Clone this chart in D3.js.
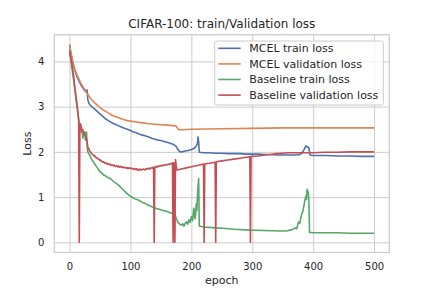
<!DOCTYPE html>
<html>
<head>
<meta charset="utf-8">
<script src="https://cdn.jsdelivr.net/npm/d3@7"></script>
<style>
  body { margin: 0; background: #fff; }
  text { font-family: "DejaVu Sans", sans-serif; fill: #262626; }
</style>
</head>
<body>
<div id="chart"></div>
<script>
// values, [epoch, loss]
const mcelTrain = [
  [0, 4.37], [2, 4.2], [4, 4.06], [6, 3.94], [8, 3.84], [10, 3.75], [13, 3.64], [16, 3.55], [19, 3.47],
  [22, 3.41], [25, 3.35], [27, 3.37], [28, 3.30], [29, 3.36], [30, 3.15], [32, 3.07], [35, 3.02],
  [38, 2.98], [41, 2.95], [45, 2.90], [50, 2.84], [55, 2.78], [60, 2.72], [65, 2.68], [70, 2.64],
  [75, 2.61], [80, 2.58], [85, 2.55], [90, 2.52], [95, 2.50], [100, 2.47], [105, 2.44], [110, 2.42],
  [115, 2.39], [120, 2.37], [125, 2.35], [130, 2.33], [135, 2.30], [140, 2.28], [145, 2.26], [150, 2.25],
  [155, 2.23], [160, 2.21], [165, 2.19], [170, 2.17], [175, 2.12], [178, 2.05], [181, 2.00], [185, 2.00],
  [190, 2.02], [195, 2.03], [200, 2.05], [205, 2.08], [208, 2.13], [210, 2.18], [211, 2.33], [212, 2.22],
  [213, 1.99], [220, 1.98], [230, 1.98], [240, 1.97], [250, 1.97], [260, 1.96], [270, 1.96], [280, 1.96],
  [290, 1.95], [300, 1.95], [310, 1.95], [320, 1.94], [330, 1.94], [340, 1.93], [350, 1.93], [360, 1.93],
  [370, 1.93], [378, 1.94], [382, 1.98], [385, 2.05], [388, 2.13], [391, 2.11], [393, 2.08], [395, 1.93],
  [400, 1.92], [420, 1.92], [440, 1.91], [460, 1.91], [480, 1.90], [500, 1.90]
];
const mcelVal = [
  [0, 4.36], [2, 4.22], [4, 4.08], [6, 3.96], [8, 3.86], [10, 3.78], [13, 3.68], [16, 3.59], [19, 3.51],
  [22, 3.44], [25, 3.37], [28, 3.31], [31, 3.25], [34, 3.19], [37, 3.14], [40, 3.10], [45, 3.04],
  [50, 2.98], [55, 2.93], [60, 2.89], [65, 2.85], [70, 2.81], [75, 2.78], [80, 2.76], [85, 2.73],
  [90, 2.71], [95, 2.69], [100, 2.68], [110, 2.66], [120, 2.64], [130, 2.62], [140, 2.61], [150, 2.60],
  [160, 2.59], [170, 2.58], [175, 2.57], [177, 2.53], [179, 2.49], [185, 2.49], [200, 2.50], [250, 2.51],
  [300, 2.52], [350, 2.53], [400, 2.53], [450, 2.53], [500, 2.53]
];
const baseTrain = [
  [0, 4.25], [3, 3.95], [6, 3.65], [9, 3.35], [12, 3.02], [15, 2.72], [17, 2.52], [19, 2.45], [21, 2.42],
  [22, 2.30], [23, 2.44], [25, 2.42], [26, 2.26], [27, 2.44], [28, 2.43], [29, 2.10], [30, 2.00],
  [32, 1.95], [34, 1.90], [36, 1.84], [38, 1.80], [40, 1.76], [42, 1.72], [44, 1.68], [46, 1.64],
  [48, 1.60], [50, 1.56], [53, 1.53], [56, 1.49], [59, 1.47], [62, 1.44], [65, 1.42], [68, 1.40],
  [71, 1.36], [74, 1.33], [77, 1.30], [80, 1.27], [83, 1.23], [86, 1.19], [89, 1.15], [92, 1.11],
  [95, 1.07], [98, 1.04], [100, 1.02], [104, 0.99], [108, 0.96], [112, 0.94], [116, 0.91], [120, 0.88],
  [124, 0.86], [128, 0.83], [132, 0.81], [136, 0.78], [140, 0.76], [144, 0.74], [148, 0.73], [152, 0.71],
  [156, 0.70], [160, 0.68], [164, 0.66], [168, 0.64], [171, 0.62], [174, 0.58], [176, 0.50], [178, 0.44],
  [181, 0.40], [184, 0.38], [186, 0.41], [188, 0.36], [190, 0.42], [192, 0.45], [194, 0.40], [196, 0.50],
  [198, 0.44], [200, 0.57], [202, 0.48], [204, 0.75], [206, 0.52], [207, 0.62], [208, 0.85], [209, 0.70],
  [210, 1.01], [211, 1.25], [212, 1.41], [213, 0.36], [220, 0.34], [230, 0.33], [240, 0.32], [252, 0.31],
  [270, 0.29], [296, 0.27], [320, 0.26], [345, 0.25], [356, 0.25], [362, 0.27], [367, 0.29], [370, 0.32],
  [373, 0.30], [376, 0.45], [378, 0.42], [381, 0.62], [383, 0.68], [386, 0.90], [388, 1.02], [389, 0.95],
  [390, 1.17], [391, 1.08], [392, 1.12], [393, 0.90], [394, 0.22], [400, 0.21], [420, 0.21], [440, 0.21],
  [460, 0.20], [480, 0.20], [500, 0.20]
];
const baseVal = [
  [0, 4.22], [3, 4.0], [6, 3.76], [9, 3.4], [12, 3.07], [14, 2.85], [15, 2.70], [16, 0], [17, 2.55],
  [18, 2.62], [20, 2.50], [21, 2.45], [22, 2.49], [23, 2.41], [24, 2.43], [25, 2.37], [26, 2.37],
  [27, 2.31], [28, 2.28], [29, 2.20], [30, 2.12], [31, 2.07], [32, 2.07], [33, 2.02], [35, 1.99],
  [36, 1.96], [38, 1.94], [40, 1.91], [41, 1.92], [43, 1.87], [44, 1.88], [46, 1.85], [48, 1.84],
  [50, 1.81], [51, 1.82], [53, 1.79], [55, 1.77], [56, 1.78], [58, 1.75], [60, 1.76], [62, 1.73],
  [63, 1.74], [65, 1.72], [67, 1.73], [68, 1.70], [70, 1.71], [72, 1.69], [73, 1.71], [75, 1.68],
  [77, 1.69], [79, 1.67], [80, 1.69], [82, 1.66], [84, 1.68], [86, 1.65], [87, 1.67], [89, 1.65],
  [91, 1.66], [93, 1.64], [95, 1.65], [96, 1.63], [98, 1.65], [100, 1.63], [102, 1.64], [104, 1.62],
  [105, 1.63], [107, 1.61], [109, 1.63], [111, 1.60], [112, 1.62], [114, 1.59], [116, 1.62], [118, 1.60],
  [120, 1.61], [122, 1.62], [124, 1.60], [126, 1.63], [128, 1.62], [130, 1.64], [132, 1.62], [134, 1.65],
  [136, 1.64], [138, 1.66], [139, 0], [140, 1.66], [142, 1.68], [144, 1.66], [146, 1.69], [148, 1.68],
  [150, 1.70], [152, 1.69], [154, 1.71], [156, 1.70], [158, 1.72], [160, 1.71], [162, 1.73], [164, 1.72],
  [166, 1.74], [168, 1.73], [169, 1.76], [170, 0], [171, 1.76], [172, 1.74], [173, 0], [174, 1.83],
  [175, 1.72], [176, 1.60], [180, 1.61], [190, 1.64], [200, 1.67], [210, 1.70], [220, 1.73], [221, 0],
  [222, 1.73], [230, 1.75], [239, 1.77], [240, 0], [241, 1.78], [250, 1.80], [260, 1.82], [270, 1.84],
  [280, 1.86], [290, 1.88], [296, 1.89], [297, 0], [298, 1.90], [310, 1.91], [320, 1.93], [330, 1.94],
  [340, 1.96], [350, 1.97], [360, 1.98], [380, 1.98], [400, 1.98], [420, 1.99], [440, 1.99], [460, 2.00],
  [480, 2.00], [500, 2.00]
];

const seriesNames = ['MCEL train loss', 'MCEL validation loss', 'Baseline train loss', 'Baseline validation loss'];
const seriesColors = ['#4c72b0', '#dd8452', '#55a868', '#c44e52'];
const xTicks = [0, 100, 200, 300, 400, 500];
const yTicks = [0, 1, 2, 3, 4];

const width = 432;
const height = 288;
const margin = {top: 34.7, right: 42.7, bottom: 35.5, left: 54.3};
const w = width - margin.left - margin.right;
const h = height - margin.top - margin.bottom;

const svg = d3.select('#chart').append('svg')
  .attr('width', width)
  .attr('height', height);

const g = svg.append('g').attr('transform', `translate(${margin.left},${margin.top})`);

const x = d3.scaleLinear().domain([-25, 525]).range([0, w]);
const y = d3.scaleLinear().domain([-0.225, 4.59]).range([h, 0]);

// grid
g.append('g')
  .attr('transform', `translate(0,${h})`)
  .call(d3.axisBottom(x).tickValues(xTicks).tickSize(-h).tickFormat(''))
  .call(a => a.select('.domain').remove())
  .call(a => a.selectAll('line').attr('stroke', '#cccccc').attr('stroke-width', 1));
g.append('g')
  .call(d3.axisLeft(y).tickValues(yTicks).tickSize(-w).tickFormat(''))
  .call(a => a.select('.domain').remove())
  .call(a => a.selectAll('line').attr('stroke', '#cccccc').attr('stroke-width', 1));

// tick labels
g.append('g')
  .attr('transform', `translate(0,${h})`)
  .call(d3.axisBottom(x).tickValues(xTicks).tickSize(0).tickPadding(10).tickFormat(d3.format('d')))
  .call(a => a.select('.domain').remove())
  .call(a => a.selectAll('text').attr('font-size', 10).attr('font-family', null).style('fill', '#262626'));
g.append('g')
  .call(d3.axisLeft(y).tickValues(yTicks).tickSize(0).tickPadding(10).tickFormat(d3.format('d')))
  .call(a => a.select('.domain').remove())
  .call(a => a.selectAll('text').attr('font-size', 10).attr('font-family', null).style('fill', '#262626'));

svg.append('clipPath').attr('id', 'clip')
  .append('rect').attr('width', w).attr('height', h);

const line = d3.line()
  .x(d => x(d[0]))
  .y(d => y(d[1]));

const plot = g.append('g').attr('clip-path', 'url(#clip)');
[mcelTrain, mcelVal, baseTrain, baseVal].forEach((s, i) => {
  plot.append('path')
    .datum(s)
    .attr('fill', 'none')
    .attr('stroke', seriesColors[i])
    .attr('stroke-width', 1.6)
    .attr('stroke-linejoin', 'round')
    .attr('d', line);
});

// frame
g.append('rect')
  .attr('width', w).attr('height', h)
  .attr('fill', 'none')
  .attr('stroke', '#cccccc')
  .attr('stroke-width', 1.25);

// title and labels
svg.append('text')
  .attr('x', margin.left + w / 2).attr('y', 28.3)
  .attr('text-anchor', 'middle').attr('font-size', 12)
  .text('CIFAR-100: train/Validation loss');
svg.append('text')
  .attr('x', margin.left + w / 2).attr('y', 284)
  .attr('text-anchor', 'middle').attr('font-size', 11)
  .text('epoch');
svg.append('text')
  .attr('transform', `translate(31,${margin.top + h / 2}) rotate(-90)`)
  .attr('text-anchor', 'middle').attr('font-size', 11)
  .text('Loss');

// legend
const legend = svg.append('g').attr('transform', 'translate(214.7,41)');
legend.append('rect')
  .attr('width', 168.6).attr('height', 64)
  .attr('rx', 2.5)
  .attr('fill', 'rgba(255,255,255,0.8)')
  .attr('stroke', '#cccccc')
  .attr('stroke-width', 1);
seriesNames.forEach((name, i) => {
  const row = legend.append('g').attr('transform', `translate(0,${7.3 + i * 15.6})`);
  row.append('line')
    .attr('x1', 3.6).attr('x2', 26)
    .attr('stroke', seriesColors[i]).attr('stroke-width', 1.6);
  row.append('text')
    .attr('x', 34.6).attr('dy', '0.35em')
    .attr('font-size', 11)
    .text(name);
});
</script>
</body>
</html>
